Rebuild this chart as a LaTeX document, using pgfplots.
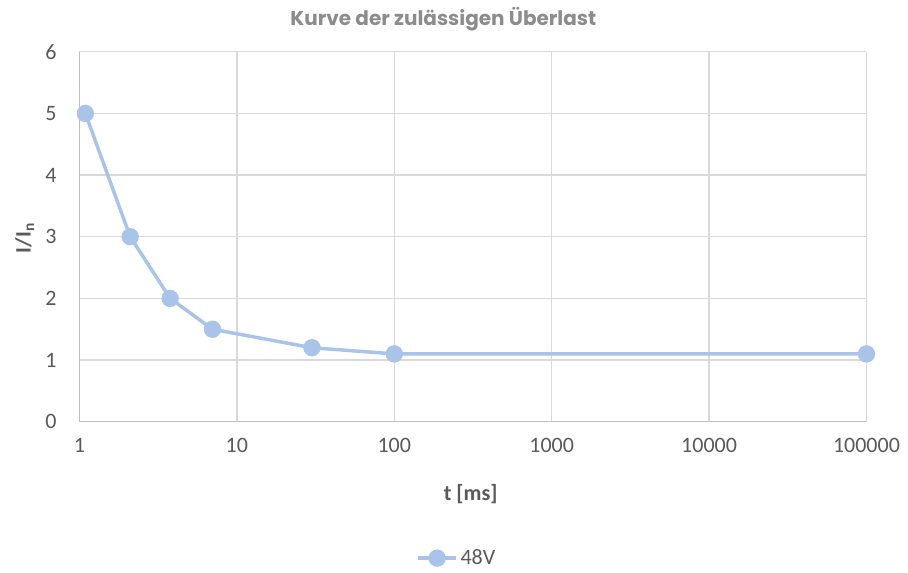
\documentclass[border=0pt]{standalone}
\usepackage{fontspec}
\setmainfont{Carlito}
\newfontfamily\titlefont{Poppins}
\usepackage{pgfplots}
\pgfplotsset{compat=1.18}
\definecolor{serie}{HTML}{A9C4E8}
\definecolor{titlegray}{HTML}{8C8C8C}
\definecolor{txtgray}{HTML}{595959}
\definecolor{gridgray}{HTML}{D9D9D9}
\definecolor{axgray}{HTML}{BFBFBF}
\begin{document}
\begin{tikzpicture}
\path[use as bounding box] (0pt,0pt) rectangle (681pt,429pt);
\begin{axis}[
  at={(59.6pt,112.7pt)}, anchor=south west,
  scale only axis, width=590.25pt, height=277.5pt,
  xmode=log, xmin=1, xmax=100000, ymin=0, ymax=6,
  xtick={1,10,100,1000,10000,100000},
  xticklabels={1,10,100,1000,10000,100000},
  ytick={0,1,2,3,4,5,6},
  minor xtick={}, 
  major tick length=0pt, minor tick length=0pt,
  axis x line=bottom, axis y line=left,
  axis line style={draw=axgray, line width=1pt, -},
  grid=major,
  major grid style={draw=gridgray, line width=1pt},
  tick label style={font=\fontsize{16.5}{18}\selectfont, text=txtgray},
  xticklabel style={anchor=north, inner sep=0pt, yshift=-12.5pt},
  yticklabel style={anchor=east, inner sep=0pt, xshift=-17pt},
  /pgf/number format/assume math mode=true,
  clip=false,
  legend style={at={(0.48,-0.3686)}, anchor=center, draw=none, fill=none,
    font=\fontsize{16.5}{18}\selectfont, text=txtgray, inner sep=0pt,
    /tikz/every even column/.append style={column sep=0pt}},
  legend cell align=left,
  legend image code/.code={
    \draw[#1, mark repeat=2, mark phase=2] plot coordinates {(0cm,0cm) (0.5cm,0cm) (1.0cm,0cm)};
  },
]
\addplot[color=serie, line width=2.6pt, mark=*, mark size=5.2pt,
  mark options={fill=serie, draw=none}]
  coordinates {(1.09,5) (2.1,3) (3.77,2) (7,1.5) (30,1.2) (100,1.1) (100000,1.1)};
\addlegendentry{48V}
\end{axis}
\node[font=\titlefont\bfseries\fontsize{15}{17}\selectfont, text=titlegray] at (332.5pt,414.5pt) {Kurve der zulässigen Überlast};
\node[font=\bfseries\fontsize{16.5}{18}\selectfont, text=txtgray] at (353pt,58.5pt) {t [ms]};
\node[font=\bfseries\fontsize{16.5}{18}\selectfont, text=txtgray, rotate=90] at (18.5pt,250.5pt) {I/I\textsubscript{n}};
\end{tikzpicture}
\end{document}
